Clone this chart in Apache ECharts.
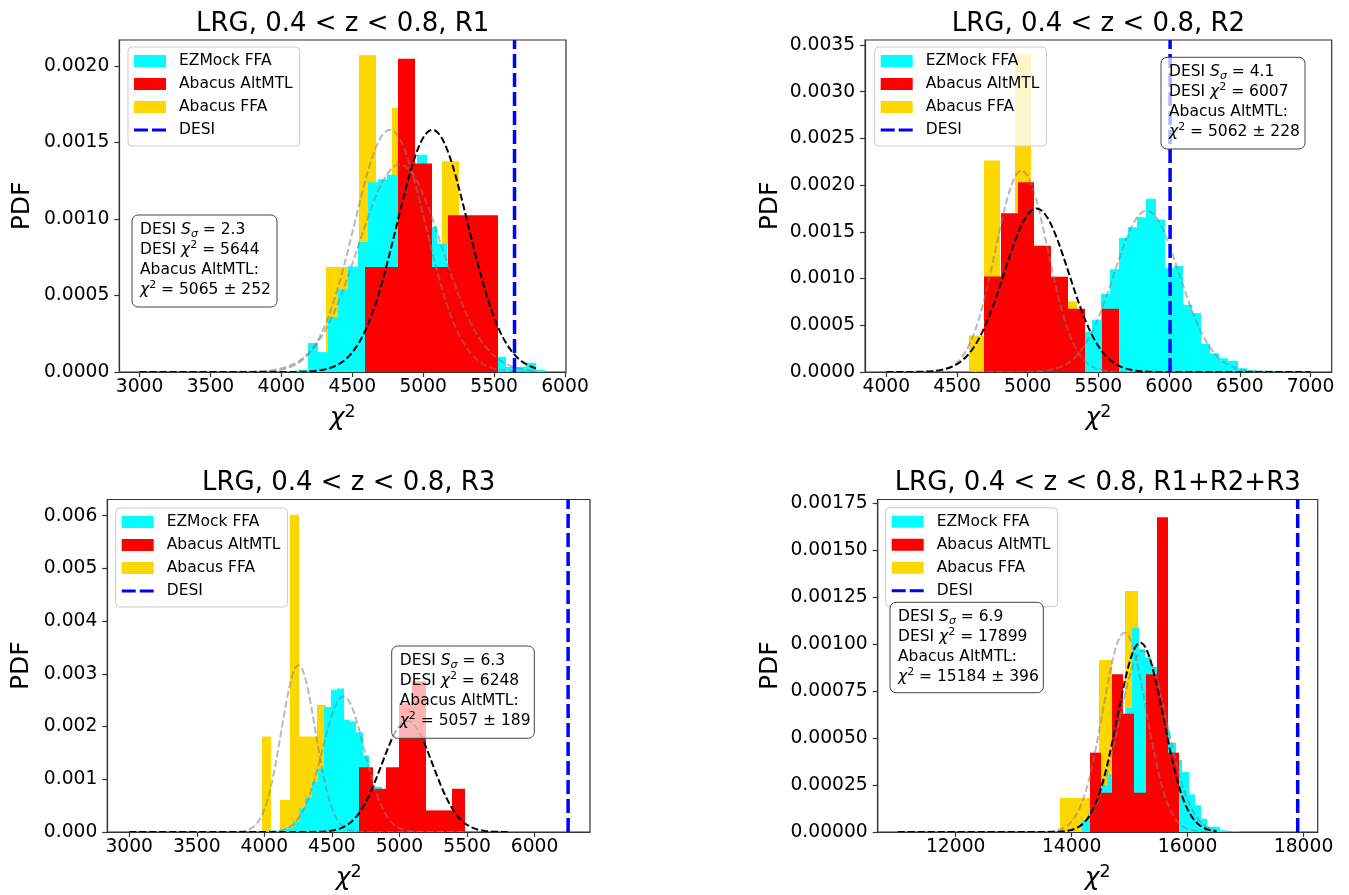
<!DOCTYPE html>
<html>
<head>
<meta charset="utf-8">
<title>LRG chi-square distributions</title>
<script src="https://cdn.jsdelivr.net/npm/echarts@6/dist/echarts.min.js"></script>
<style>
  html, body { margin: 0; padding: 0; background: #ffffff; }
  #chart { width: 1349px; height: 895px; }
</style>
</head>
<body>
<div id="chart"></div>
<script>
// ---------------- data ----------------
const panelTitles = [
  'LRG, 0.4 < z < 0.8, R1',
  'LRG, 0.4 < z < 0.8, R2',
  'LRG, 0.4 < z < 0.8, R3',
  'LRG, 0.4 < z < 0.8, R1+R2+R3'
];

// R1 histograms (bin edges, PDF per bin)
const r1EzEdges = [4120,4190,4259,4329,4399,4469,4538,4608,4678,4747,4817,4887,4956,5026,5096,5166,5235,5305,5375,5444,5514,5584,5653,5723,5793,5862];
const r1EzPdf = [0.000015,0.00019,0.00013,0.00036,0.00054,0.00069,0.00085,0.00124,0.00126,0.00129,0.00138,0.00130,0.00142,0.00095,0.00084,0.00065,0.00050,0.00035,0.00022,0.00013,0.00010,0.000033,0.000033,0.00006,0.000015];
const r1AltEdges = [4589,4707,4824,4941,5059,5176,5293,5411,5528];
const r1AltPdf = [0.000686,0.000686,0.002048,0.001362,0.000686,0.001024,0.001024,0.001024];
const r1FfaEdges = [4312,4429,4547,4664,4781,4899,5016,5133,5251,5368];
const r1FfaPdf = [0.000686,0.000686,0.00207,0.00102,0.001725,0.00068,0,0.001377,0.00034];

// R2 histograms
const r2EzEdges = [5132,5197,5261,5325,5390,5454,5518,5583,5647,5712,5776,5840,5905,5969,6033,6098,6162,6226,6291,6355,6419,6484,6548,6612,6677,6741];
const r2EzPdf = [0.00002,0.00006,0.00015,0.0003,0.000433,0.000558,0.000837,0.0011,0.001434,0.001549,0.001656,0.001853,0.001631,0.001112,0.001137,0.000719,0.00063,0.0003,0.0002,0.000147,0.00012,0.00004,0.00002,0.000014,0.000014];
const r2AltEdges = [4691,4810,4929,5048,5167,5286,5405,5524,5643];
const r2AltPdf = [0.001023,0.0017,0.00203,0.00135,0.00102,0.000676,0,0.000676];
const r2FfaEdges = [4585,4694,4803,4912,5021,5130,5240,5349];
const r2FfaPdf = [0.00039,0.002264,0.000733,0.0034,0.0011,0.000733,0.000755];

// R3 histograms
const r3EzEdges = [4022,4069,4116,4163,4210,4257,4304,4351,4398,4445,4492,4539,4586,4633,4680,4727,4774,4821,4868,4915,4962,5009,5056,5103,5150,5197];
const r3EzPdf = [0.000025,0.000025,0.00004,0.00008,0.0002,0.00045,0.00065,0.00095,0.0012,0.00237,0.0027,0.00272,0.00213,0.0021,0.00189,0.00145,0.00085,0.00086,0.0005,0.0003,0.00015,0.00007,0.00003,0.00001,0.00001];
const r3AltEdges = [4703,4801,4899,4997,5095,5193,5291,5389,5487];
const r3AltPdf = [0.00123,0.00082,0.00123,0.00244,0.00286,0.00041,0.00041,0.00082];
const r3FfaEdges = [3985,4052,4119,4187,4254,4321,4388,4455,4522];
const r3FfaPdf = [0.00181,0,0.00061,0.00602,0.00181,0.00181,0.00241,0.0006];

// R1+R2+R3 histograms
const rAllEzEdges = [14182,14290,14398,14506,14614,14722,14830,14938,15046,15154,15262,15370,15478,15586,15694,15802,15910,16018,16126,16234,16342,16450,16558,16666,16774,16882];
const rAllEzPdf = [0.000062,0.0001,0.00018,0.00025,0.000307,0.00045,0.0006,0.00066,0.001087,0.000972,0.000927,0.000878,0.0008,0.000546,0.000475,0.000383,0.000319,0.0002,0.000142,0.000071,0.000028,0.000028,0.00001,0,0.000005];
const rAllAltEdges = [14314,14506,14698,14890,15082,15274,15466,15658,15850];
const rAllAltPdf = [0.000422,0.000209,0.000839,0.000629,0.000209,0.000839,0.001674,0.000422];
const rAllFfaEdges = [13799,14022,14245,14468,14691,14913,15136,15359,15581];
const rAllFfaPdf = [0.000181,0.000181,0.000181,0.000915,0.00054,0.001282,0.0009,0.00036];

// Gaussian fits (mean, sigma) per panel
const altMean = [5065, 5062, 5057, 15184];
const altSigma = [252, 228, 189, 396];
const ffaFitMean = [4765, 4957, 4252, 14913];
const ffaFitSigma = [252, 185, 126, 376];
const ezFitMean = [4836, 5841, 4585, 15228];
const ezFitSigma = [294, 231, 155, 414];
const fitRange = [[3000, 5800], [4000, 7000], [3000, 5800], [11000, 16500]];

// DESI measurement per panel
const desiChi2 = [5644, 6007, 6248, 17899];
const desiSigma = [2.3, 4.1, 6.3, 6.9];

// Tick values
const xTicks = [
  [3000, 3500, 4000, 4500, 5000, 5500, 6000],
  [4000, 4500, 5000, 5500, 6000, 6500, 7000],
  [3000, 3500, 4000, 4500, 5000, 5500, 6000],
  [12000, 14000, 16000, 18000]
];
const yTicks = [
  [0, 0.0005, 0.001, 0.0015, 0.002],
  [0, 0.0005, 0.001, 0.0015, 0.002, 0.0025, 0.003, 0.0035],
  [0, 0.001, 0.002, 0.003, 0.004, 0.005, 0.006],
  [0, 0.00025, 0.0005, 0.00075, 0.001, 0.00125, 0.0015, 0.00175]
];
const yDecimals = [4, 4, 3, 5];

const ezHists = [[r1EzEdges, r1EzPdf], [r2EzEdges, r2EzPdf], [r3EzEdges, r3EzPdf], [rAllEzEdges, rAllEzPdf]];
const altHists = [[r1AltEdges, r1AltPdf], [r2AltEdges, r2AltPdf], [r3AltEdges, r3AltPdf], [rAllAltEdges, rAllAltPdf]];
const ffaHists = [[r1FfaEdges, r1FfaPdf], [r2FfaEdges, r2FfaPdf], [r3FfaEdges, r3FfaPdf], [rAllFfaEdges, rAllFfaPdf]];

// ---------------- layout ----------------
const FONT = 'DejaVu Sans';
const AXIS_COLOR = '#333333';
const grids = [
  { left: 119.3, top: 40, width: 446.7, height: 332 },
  { left: 865.1, top: 40, width: 466.6, height: 332 },
  { left: 107.3, top: 499.5, width: 482.7, height: 332.5 },
  { left: 877.7, top: 499.5, width: 440, height: 332.5 }
];
const xLim = [[2857, 6007], [3850, 7150], [2838, 6410], [10655, 18244]];
const yMax = [0.00217, 0.003553, 0.006307, 0.001769];
const yNameGap = [84, 82, 73, 95];
const legendPos = [[128, 47], [874.7, 47], [115.7, 508], [885.7, 507.7]];
const boxRect = [
  [132, 215, 145, 92],
  [1161, 57.3, 144, 91.7],
  [391.7, 646, 142.6, 92.3],
  [890, 602.3, 153.3, 90.4]
];

const COLORS = { ez: '#00ffff', alt: '#ff0000', ffa: '#ffd700', desi: '#0000ff' };

function histSeries(name, hist, color, idx, z) {
  const edges = hist[0], pdf = hist[1];
  const data = pdf.map((h, k) => [edges[k], edges[k + 1], h]);
  return {
    type: 'custom', name: name, xAxisIndex: idx, yAxisIndex: idx, z: z,
    silent: true, itemStyle: { color: color },
    encode: { x: [0, 1], y: 2 },
    data: data,
    renderItem: function (params, api) {
      const h = api.value(2);
      if (!(h > 0)) return null;
      const pTop = api.coord([api.value(0), h]);
      const pBot = api.coord([api.value(1), 0]);
      const x0 = Math.round(pTop[0]);
      const x1 = Math.round(pBot[0]);
      return {
        type: 'rect',
        shape: { x: x0, y: pTop[1], width: x1 - x0, height: pBot[1] - pTop[1] },
        style: { fill: color }
      };
    }
  };
}

function normalCurve(mean, sd, range) {
  const pts = [];
  const n = 300;
  for (let k = 0; k <= n; k++) {
    const x = range[0] + (range[1] - range[0]) * k / n;
    const u = (x - mean) / sd;
    pts.push([x, Math.exp(-0.5 * u * u) / (sd * Math.sqrt(2 * Math.PI))]);
  }
  return pts;
}

function fitSeries(mean, sd, range, idx, color, z) {
  return {
    type: 'line', xAxisIndex: idx, yAxisIndex: idx, z: z, silent: true,
    data: normalCurve(mean, sd, range),
    showSymbol: false, symbol: 'none',
    lineStyle: { color: color, width: 2, type: [7, 3] }
  };
}

function desiSeries(idx) {
  return {
    type: 'custom', name: 'DESI', xAxisIndex: idx, yAxisIndex: idx, z: 6, silent: true,
    itemStyle: { color: COLORS.desi },
    encode: { x: 0, y: 1 },
    data: [[desiChi2[idx], 0]],
    renderItem: function (params, api) {
      const cs = params.coordSys;
      const x = api.coord([api.value(0), 0])[0];
      return {
        type: 'line',
        shape: { x1: x, y1: cs.y + cs.height, x2: x, y2: cs.y },
        style: { stroke: COLORS.desi, lineWidth: 3.5, lineDash: [14, 5] }
      };
    }
  };
}

const series = [];
for (let i = 0; i < 4; i++) {
  series.push(histSeries('Abacus FFA', ffaHists[i], COLORS.ffa, i, 1));
  series.push(histSeries('EZMock FFA', ezHists[i], COLORS.ez, i, 2));
  series.push(histSeries('Abacus AltMTL', altHists[i], COLORS.alt, i, 3));
  series.push(fitSeries(ezFitMean[i], ezFitSigma[i], fitRange[i], i, 'rgba(128,128,128,0.55)', 4));
  series.push(fitSeries(ffaFitMean[i], ffaFitSigma[i], fitRange[i], i, 'rgba(128,128,128,0.55)', 4));
  series.push(fitSeries(altMean[i], altSigma[i], fitRange[i], i, '#000000', 5));
  series.push(desiSeries(i));
}

const chiRich = {
  i: { fontStyle: 'italic', fontSize: 25, fontFamily: FONT, lineHeight: 30, color: '#000' },
  s: { fontSize: 17.5, fontFamily: FONT, lineHeight: 16, verticalAlign: 'top', color: '#000' }
};

const xAxes = grids.map((g, i) => ({
  type: 'value', gridIndex: i, min: xLim[i][0], max: xLim[i][1], z: 10,
  axisLine: { show: true, onZero: false, lineStyle: { color: AXIS_COLOR, width: 1.2 } },
  axisTick: { show: true, length: 5, customValues: xTicks[i], lineStyle: { color: AXIS_COLOR, width: 1.2 } },
  axisLabel: { show: true, customValues: xTicks[i], fontSize: 18.7, fontFamily: FONT, color: '#000', margin: 6,
               formatter: v => String(v) },
  splitLine: { show: false },
  name: '{i|χ}{s|2}', nameLocation: 'middle', nameGap: 31,
  nameTextStyle: { rich: chiRich }
}));

const yAxes = grids.map((g, i) => ({
  type: 'value', gridIndex: i, min: 0, max: yMax[i], z: 10,
  axisLine: { show: true, onZero: false, lineStyle: { color: AXIS_COLOR, width: 1.2 } },
  axisTick: { show: true, length: 5, customValues: yTicks[i], lineStyle: { color: AXIS_COLOR, width: 1.2 } },
  axisLabel: { show: true, customValues: yTicks[i], fontSize: 18.7, fontFamily: FONT, color: '#000', margin: 10,
               formatter: v => Number(v).toFixed(yDecimals[i]) },
  splitLine: { show: false },
  name: 'PDF', nameLocation: 'middle', nameGap: yNameGap[i],
  nameTextStyle: { fontSize: 25, fontFamily: FONT, color: '#000' }
}));

const legends = grids.map((g, i) => ({
  orient: 'vertical', left: legendPos[i][0], top: legendPos[i][1], z: 20,
  itemWidth: 32, itemHeight: 12, itemGap: 7,
  padding: [6, 7, 8, 6],
  backgroundColor: 'rgba(255,255,255,0.8)', borderColor: '#cccccc', borderWidth: 1, borderRadius: 4,
  selectedMode: false,
  textStyle: { fontSize: 15.5, fontFamily: FONT, color: '#000', lineHeight: 16, padding: [0, 0, 0, 8] },
  data: [
    { name: 'EZMock FFA', icon: 'rect' },
    { name: 'Abacus AltMTL', icon: 'rect' },
    { name: 'Abacus FFA', icon: 'rect' },
    { name: 'DESI', icon: 'path://M0,0H14V3H0Z M18,0H32V3H18Z' }
  ]
}));

const boxRich = {
  n: { fontSize: 15.5, fontFamily: FONT, lineHeight: 20, fill: '#000' },
  i: { fontSize: 15.5, fontFamily: FONT, fontStyle: 'italic', lineHeight: 20, fill: '#000' },
  sub: { fontSize: 11, fontFamily: FONT, fontStyle: 'italic', lineHeight: 12, verticalAlign: 'bottom', fill: '#000' },
  sup: { fontSize: 11, fontFamily: FONT, lineHeight: 12, verticalAlign: 'top', fill: '#000' }
};

const graphics = [];
grids.forEach((g, i) => {
  graphics.push({
    type: 'text', z: 30,
    x: g.left + g.width / 2, y: g.top - 16,
    style: {
      text: panelTitles[i], fill: '#000', font: '26px "' + FONT + '"',
      align: 'center', verticalAlign: 'middle', textAlign: 'center', textVerticalAlign: 'middle'
    }
  });
  const b = boxRect[i];
  graphics.push({
    type: 'group', z: 30,
    children: [
      {
        type: 'rect', z: 30,
        shape: { x: b[0], y: b[1], width: b[2], height: b[3], r: 6 },
        style: { fill: 'rgba(255,255,255,0.7)', stroke: '#444444', lineWidth: 1 }
      },
      {
        type: 'text', z: 31,
        x: b[0] + 8, y: b[1] + 4.5,
        style: {
          text: '{n|DESI }{i|S}{sub|σ}{n| = ' + desiSigma[i] + '}\n' +
                '{n|DESI }{i|χ}{sup|2}{n| = ' + desiChi2[i] + '}\n' +
                '{n|Abacus AltMTL:}\n' +
                '{i|χ}{sup|2}{n| = ' + altMean[i] + ' ± ' + altSigma[i] + '}',
          rich: boxRich, fill: '#000',
          align: 'left', verticalAlign: 'top', textAlign: 'left', textVerticalAlign: 'top'
        }
      }
    ]
  });
});

const option = {
  animation: false,
  backgroundColor: '#ffffff',
  textStyle: { fontFamily: FONT },
  grid: grids.map(g => ({
    left: g.left, top: g.top, width: g.width, height: g.height,
    show: true, borderColor: AXIS_COLOR, borderWidth: 1.2, backgroundColor: 'transparent',
    containLabel: false, outerBoundsMode: 'none'
  })),
  xAxis: xAxes,
  yAxis: yAxes,
  legend: legends,
  series: series,
  graphic: graphics
};

const chart = echarts.init(document.getElementById('chart'), null, { renderer: 'canvas', width: 1349, height: 895 });
chart.setOption(option);
</script>
</body>
</html>
